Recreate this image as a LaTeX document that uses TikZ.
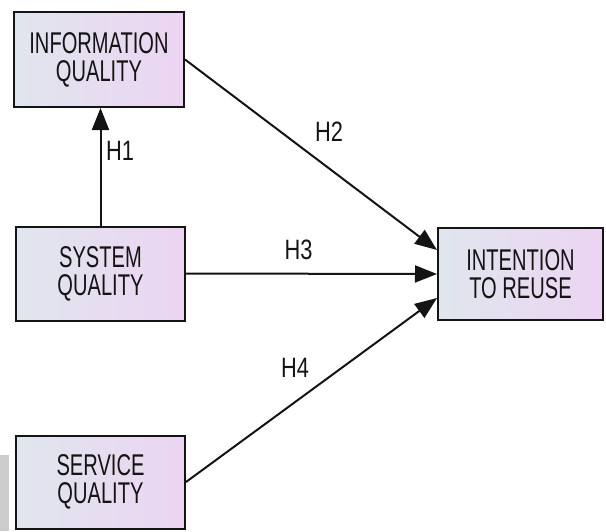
\documentclass[tikz,border=0pt]{standalone}
\usepackage{fontspec}
\setmainfont{Liberation Sans}
\newfontfamily\boxfont[FakeStretch=0.67]{Liberation Sans}
\newfontfamily\labfont[FakeStretch=0.78]{Liberation Sans}
\usetikzlibrary{arrows.meta,shadings}
\definecolor{boxleft}{RGB}{224,230,238}
\definecolor{boxright}{RGB}{236,212,242}
\definecolor{ink}{RGB}{20,20,20}
\tikzset{
  construct/.style={rectangle, draw=ink, line width=2pt, left color=boxleft, right color=boxright,
    align=center, inner sep=0pt, font=\boxfont\fontsize{30}{28}\selectfont, text=ink},
  hyp/.style={draw=ink, line width=2pt, -{Triangle[length=22pt,width=17pt]}},
  hlabel/.style={font=\labfont\fontsize{28}{30}\selectfont, text=ink, inner sep=0pt}
}
\begin{document}
\begin{tikzpicture}[x=1pt,y=-1pt]
\useasboundingbox (0,0) rectangle (606,531);
\fill[gray!40] (0,455) rectangle (9,531);
\node[construct, minimum width=170pt, minimum height=95pt] (info) at (99,59.5) {INFORMATION\\QUALITY};
\node[construct, minimum width=169pt, minimum height=94pt] (system) at (100.5,273.5) {SYSTEM\\QUALITY};
\node[construct, minimum width=169pt, minimum height=93pt] (service) at (100.5,482) {SERVICE\\QUALITY};
\node[construct, minimum width=165pt, minimum height=92pt] (intent) at (520.5,274) {INTENTION\\TO REUSE};
\draw[hyp] (system.north) -- (system.north |- info.south);
\draw[hyp] (info.east) -- ([yshift=24pt]intent.west);
\draw[hyp] (system.east) -- (intent.west);
\draw[hyp] (service.east) -- ([yshift=-24pt]intent.west);
\node[hlabel] (h1) at (120,150.5) {H1};
\node[hlabel] (h2) at (329,131.5) {H2};
\node[hlabel] (h3) at (298.5,250) {H3};
\node[hlabel] (h4) at (295,367.5) {H4};
\end{tikzpicture}
\end{document}
